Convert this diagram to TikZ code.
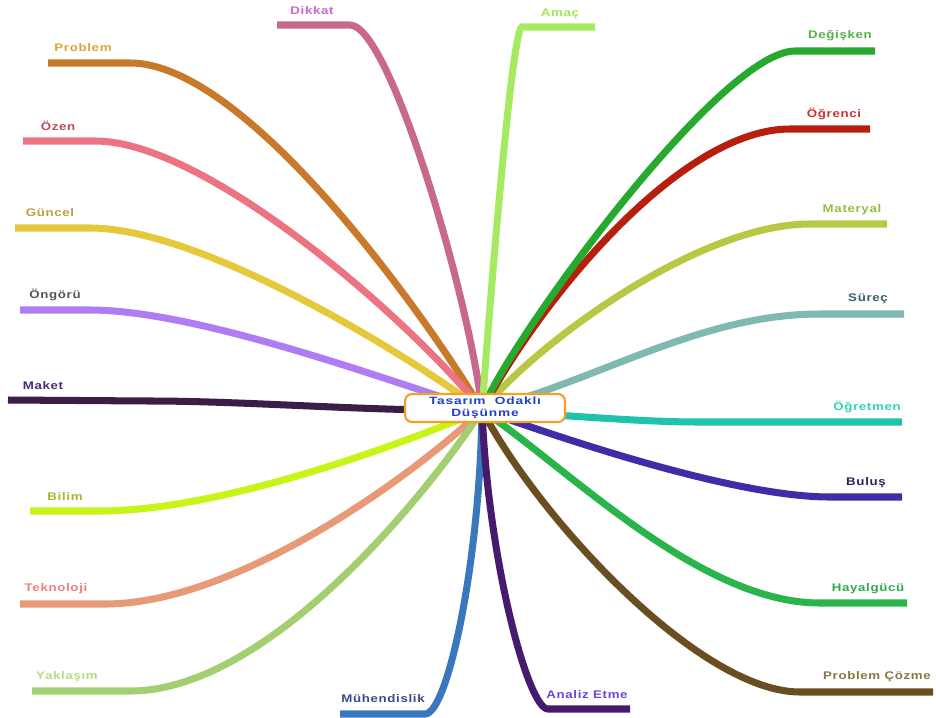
\documentclass[tikz,border=0pt]{standalone}
\usepackage{fontspec}
\setmainfont{Liberation Sans}
\newfontfamily\labelfont[LetterSpace=6, FakeStretch=1.2]{Liberation Sans}
\newfontfamily\hubfont[LetterSpace=8, FakeStretch=1.3]{Liberation Sans}
\usepackage{xcolor}
\definecolor{hubOrange}{HTML}{F4A020}
\definecolor{hubBlue}{HTML}{2040C8}
\definecolor{problemLine}{HTML}{C87A2A}  \definecolor{problemText}{HTML}{D9A43A}
\definecolor{dikkatLine}{HTML}{C8688C}   \definecolor{dikkatText}{HTML}{CC66CC}
\definecolor{ozenLine}{HTML}{EC7382}     \definecolor{ozenText}{HTML}{C04A5A}
\definecolor{guncelLine}{HTML}{E5C93A}   \definecolor{guncelText}{HTML}{C0A040}
\definecolor{ongoruLine}{HTML}{B07CF4}   \definecolor{ongoruText}{HTML}{555555}
\definecolor{maketLine}{HTML}{3C1D45}    \definecolor{maketText}{HTML}{4B2A78}
\definecolor{bilimLine}{HTML}{C8F418}    \definecolor{bilimText}{HTML}{A8B828}
\definecolor{teknoLine}{HTML}{E89A78}    \definecolor{teknoText}{HTML}{EC8080}
\definecolor{yaklasimLine}{HTML}{A4CF70} \definecolor{yaklasimText}{HTML}{B4DC82}
\definecolor{muhLine}{HTML}{3A78BE}      \definecolor{muhText}{HTML}{3B4A88}
\definecolor{analizLine}{HTML}{461A6C}   \definecolor{analizText}{HTML}{6A44DC}
\definecolor{cozmeLine}{HTML}{6A4E22}    \definecolor{cozmeText}{HTML}{8C7440}
\definecolor{hayalLine}{HTML}{2AB54A}    \definecolor{hayalText}{HTML}{2EAA48}
\definecolor{bulusLine}{HTML}{3E2CA8}    \definecolor{bulusText}{HTML}{252560}
\definecolor{ogretmenLine}{HTML}{20C2AA} \definecolor{ogretmenText}{HTML}{2ED4B4}
\definecolor{surecLine}{HTML}{80B8B2}    \definecolor{surecText}{HTML}{3A5E6A}
\definecolor{materyalLine}{HTML}{B8C844} \definecolor{materyalText}{HTML}{90C040}
\definecolor{ogrenciLine}{HTML}{B81E0E}  \definecolor{ogrenciText}{HTML}{D03030}
\definecolor{degiskenLine}{HTML}{26AA2E} \definecolor{degiskenText}{HTML}{52B048}
\definecolor{amacLine}{HTML}{A6EA62}     \definecolor{amacText}{HTML}{A4E454}
\tikzset{
    branch-line/.style = {line width=4pt},
    branch-label/.style = {font=\labelfont\bfseries\fontsize{6.3}{7}\selectfont, inner sep=0pt},
    hub-box/.style = {draw=hubOrange, fill=white, line width=1.2pt, rounded corners=4pt, minimum width=3.2cm, minimum height=0.56cm, inner sep=1pt, align=center, text=hubBlue, font=\hubfont\bfseries\fontsize{6}{6.6}\selectfont},
}
\begin{document}
\begin{tikzpicture}[x=0.02cm, y=-0.02cm]
\useasboundingbox (0,0) rectangle (936,717);
\coordinate (hub) at (482,410);

% left side
\coordinate (problem-in) at (130,63); \coordinate (problem-out) at (48,63);
\draw[branch-line, problemLine] (hub) .. controls (435,330) and (250,63) .. (problem-in) -- (problem-out);
\coordinate (ozen-in) at (95,141); \coordinate (ozen-out) at (23,141);
\draw[branch-line, ozenLine] (hub) .. controls (420,330) and (210,141) .. (ozen-in) -- (ozen-out);
\coordinate (guncel-in) at (90,228); \coordinate (guncel-out) at (15,228);
\draw[branch-line, guncelLine] (hub) .. controls (400,350) and (200,228) .. (guncel-in) -- (guncel-out);
\coordinate (ongoru-in) at (90,310); \coordinate (ongoru-out) at (20,310);
\draw[branch-line, ongoruLine] (hub) .. controls (400,385) and (200,310) .. (ongoru-in) -- (ongoru-out);
\coordinate (maket-in) at (150,401); \coordinate (maket-out) at (8,400);
\draw[branch-line, maketLine] (hub) .. controls (380,412) and (250,401) .. (maket-in) -- (maket-out);
\coordinate (bilim-in) at (100,511); \coordinate (bilim-out) at (30,511);
\draw[branch-line, bilimLine] (hub) .. controls (400,445) and (220,511) .. (bilim-in) -- (bilim-out);
\coordinate (tekno-in) at (105,604); \coordinate (tekno-out) at (20,604);
\draw[branch-line, teknoLine] (hub) .. controls (420,470) and (240,604) .. (tekno-in) -- (tekno-out);
\coordinate (yaklasim-in) at (130,691); \coordinate (yaklasim-out) at (32,691);
\draw[branch-line, yaklasimLine] (hub) .. controls (430,490) and (270,691) .. (yaklasim-in) -- (yaklasim-out);

% bottom
\coordinate (muh-in) at (425,714); \coordinate (muh-out) at (340,714);
\draw[branch-line, muhLine] (hub) .. controls (480,560) and (448,714) .. (muh-in) -- (muh-out);
\coordinate (analiz-in) at (548,709); \coordinate (analiz-out) at (630,709);
\draw[branch-line, analizLine] (hub) .. controls (488,560) and (528,709) .. (analiz-in) -- (analiz-out);

% right side
\coordinate (cozme-in) at (800,692); \coordinate (cozme-out) at (933,692);
\draw[branch-line, cozmeLine] (hub) .. controls (540,520) and (700,692) .. (cozme-in) -- (cozme-out);
\coordinate (hayal-in) at (820,603); \coordinate (hayal-out) at (907,603);
\draw[branch-line, hayalLine] (hub) .. controls (570,470) and (700,603) .. (hayal-in) -- (hayal-out);
\coordinate (bulus-in) at (830,497); \coordinate (bulus-out) at (902,497);
\draw[branch-line, bulusLine] (hub) .. controls (580,445) and (740,497) .. (bulus-in) -- (bulus-out);
\coordinate (ogretmen-in) at (700,422); \coordinate (ogretmen-out) at (902,422);
\draw[branch-line, ogretmenLine] (hub) .. controls (600,418) and (650,422) .. (ogretmen-in) -- (ogretmen-out);
\coordinate (surec-in) at (820,314); \coordinate (surec-out) at (904,314);
\draw[branch-line, surecLine] (hub) .. controls (600,380) and (700,314) .. (surec-in) -- (surec-out);
\coordinate (materyal-in) at (810,224); \coordinate (materyal-out) at (887,224);
\draw[branch-line, materyalLine] (hub) .. controls (540,340) and (700,224) .. (materyal-in) -- (materyal-out);
\coordinate (ogrenci-in) at (790,129); \coordinate (ogrenci-out) at (870,129);
\draw[branch-line, ogrenciLine] (hub) .. controls (540,300) and (680,129) .. (ogrenci-in) -- (ogrenci-out);
\coordinate (degisken-in) at (795,51); \coordinate (degisken-out) at (875,51);
\draw[branch-line, degiskenLine] (hub) .. controls (510,340) and (720,51) .. (degisken-in) -- (degisken-out);

% top
\coordinate (dikkat-in) at (350,25); \coordinate (dikkat-out) at (277,25);
\draw[branch-line, dikkatLine] (hub) .. controls (470,300) and (390,25) .. (dikkat-in) -- (dikkat-out);
\coordinate (amac-in) at (522,27); \coordinate (amac-out) at (595,27);
\draw[branch-line, amacLine] (hub) .. controls (490,300) and (512,27) .. (amac-in) -- (amac-out);

% labels
\node[branch-label, text=problemText] (problem) at (83,48) {Problem};
\node[branch-label, text=ozenText] (ozen) at (58,126) {Özen};
\node[branch-label, text=guncelText] (guncel) at (50,213) {Güncel};
\node[branch-label, text=ongoruText] (ongoru) at (55,295) {Öngörü};
\node[branch-label, text=maketText] (maket) at (43,386) {Maket};
\node[branch-label, text=bilimText] (bilim) at (65,496) {Bilim};
\node[branch-label, text=teknoText] (tekno) at (56,589) {Teknoloji};
\node[branch-label, text=yaklasimText] (yaklasim) at (67,677) {Yaklaşım};
\node[branch-label, text=muhText] (muh) at (383,699) {Mühendislik};
\node[branch-label, text=analizText] (analiz) at (587,695) {Analiz Etme};
\node[branch-label, text=cozmeText] (cozme) at (877,677) {Problem Çözme};
\node[branch-label, text=hayalText] (hayal) at (868,589) {Hayalgücü};
\node[branch-label, text=bulusText] (bulus) at (866,483) {Buluş};
\node[branch-label, text=ogretmenText] (ogretmen) at (867,407) {Öğretmen};
\node[branch-label, text=surecText] (surec) at (868,299) {Süreç};
\node[branch-label, text=materyalText] (materyal) at (852,210) {Materyal};
\node[branch-label, text=ogrenciText] (ogrenci) at (834,114) {Öğrenci};
\node[branch-label, text=degiskenText] (degisken) at (840,36) {Değişken};
\node[branch-label, text=dikkatText] (dikkat) at (312,11) {Dikkat};
\node[branch-label, text=amacText] (amac) at (560,14) {Amaç};

\node[hub-box] (center) at (485,408) {Tasarım\ \ Odaklı\\Düşünme};
\end{tikzpicture}
\end{document}
